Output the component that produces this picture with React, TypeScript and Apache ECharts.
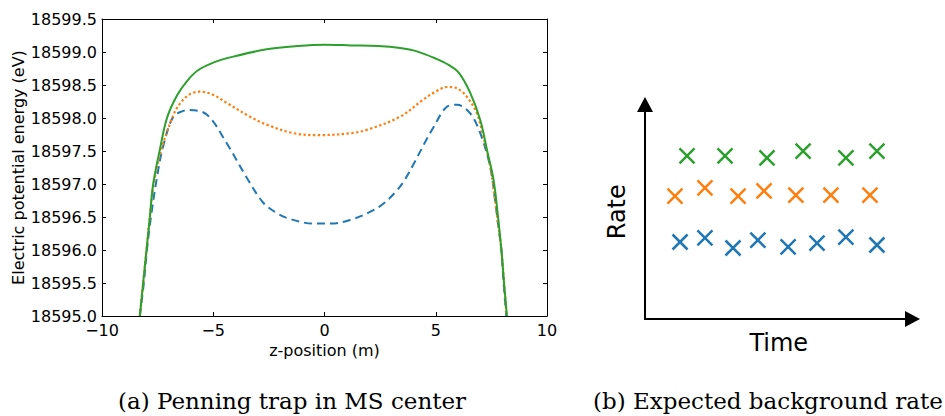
import React, { useEffect, useRef } from "react";
import * as echarts from "echarts";

// ---------- Left panel: Penning trap potential ----------
const xTicks = [-10, -5, 0, 5, 10];
const yTicks = [18595.0, 18595.5, 18596.0, 18596.5, 18597.0, 18597.5, 18598.0, 18598.5, 18599.0, 18599.5];

const greenSolid: [number, number][] = [
  [-8.3, 18595.0], [-8.15, 18595.5], [-8.0, 18596.0], [-7.85, 18596.5], [-7.7, 18597.0],
  [-7.4, 18597.52], [-7.08, 18598.0], [-6.63, 18598.34], [-6.18, 18598.56], [-5.7, 18598.72],
  [-5.0, 18598.84], [-4.1, 18598.93], [-2.6, 18599.04], [-1.2, 18599.09], [0.0, 18599.11], [1.2, 18599.1],
  [2.4, 18599.09], [3.4, 18599.06], [4.15, 18599.01], [5.0, 18598.9], [5.6, 18598.8],
  [6.05, 18598.68], [6.55, 18598.38], [7.0, 18597.97], [7.3, 18597.52], [7.6, 18597.06],
  [7.8, 18596.5], [7.95, 18596.0], [8.07, 18595.5], [8.2, 18595.0],
];

const orangeDotted: [number, number][] = [
  [-8.3, 18595.0], [-8.15, 18595.5], [-8.0, 18596.0], [-7.85, 18596.5], [-7.68, 18597.0],
  [-7.35, 18597.5], [-6.94, 18597.92], [-6.6, 18598.17], [-6.1, 18598.35], [-5.6, 18598.4],
  [-5.0, 18598.35], [-4.4, 18598.23], [-3.35, 18598.02], [-2.6, 18597.9], [-1.4, 18597.77],
  [-0.2, 18597.74], [1.15, 18597.77], [1.9, 18597.82], [3.4, 18598.02], [4.4, 18598.27],
  [5.0, 18598.4], [5.5, 18598.47], [5.95, 18598.45], [6.4, 18598.32], [6.85, 18598.07],
  [7.1, 18597.77], [7.45, 18597.26], [7.65, 18596.8], [7.8, 18596.4], [7.95, 18596.0],
  [8.07, 18595.5], [8.18, 18595.0],
];

const blueDashed: [number, number][] = [
  [-8.3, 18595.0], [-8.12, 18595.5], [-7.98, 18596.0], [-7.8, 18596.5], [-7.53, 18597.1],
  [-7.26, 18597.56], [-6.8, 18598.02], [-6.4, 18598.1], [-6.05, 18598.12], [-5.28, 18598.05],
  [-4.4, 18597.62], [-3.5, 18597.1], [-2.76, 18596.72], [-2.1, 18596.55], [-1.55, 18596.47], [-0.5, 18596.4],
  [0.3, 18596.4], [1.2, 18596.46], [2.0, 18596.57], [2.64, 18596.7], [3.25, 18596.9], [3.6, 18597.06],
  [4.0, 18597.3], [4.5, 18597.62], [4.9, 18597.86], [5.5, 18598.17], [5.95, 18598.2], [6.55, 18598.07], [7.0, 18597.77],
  [7.45, 18597.26], [7.65, 18596.8], [7.8, 18596.4], [7.95, 18596.0], [8.05, 18595.5],
  [8.17, 18595.0],
];

// ---------- Right panel: expected background rate (schematic) ----------
const greenRateT = [15.7, 29.9, 45.6, 59.1, 75.1, 86.7];
const greenRate = [76.0, 76.0, 75.1, 78.3, 75.1, 78.3];
const orangeRateT = [11.2, 22.4, 34.8, 44.5, 56.4, 69.5, 84.1];
const orangeRate = [57.3, 61.1, 57.3, 59.7, 57.8, 57.8, 57.8];
const blueRateT = [13.1, 22.4, 32.9, 42.2, 53.5, 64.3, 75.1, 86.7];
const blueRate = [35.9, 37.8, 33.1, 36.8, 33.6, 35.4, 38.2, 34.5];

const captions = ["(a) Penning trap in MS center", "(b) Expected background rate"];

const BLUE = "#1f77b4";
const ORANGE = "#ff7f0e";
const GREEN = "#2ca02c";
const SANS = "DejaVu Sans";
const SERIF = "DejaVu Serif";

const zip = (a: number[], b: number[]) => a.map((v, i) => [v, b[i]]);
const CROSS = "path://M0 0L10 10M10 0L0 10";

export default function App() {
  const ref = useRef<HTMLDivElement>(null);
  useEffect(() => {
    if (!ref.current) return;
    const chart = echarts.init(ref.current, undefined, { renderer: "svg" });
    const axisLine = { show: true, onZero: false, lineStyle: { color: "#000", width: 1 } };
    const tickIn = { show: true, inside: true, length: 4, lineStyle: { color: "#000", width: 1 } };
    const arrowLine = {
      show: true, onZero: false, symbol: ["none", "triangle"], symbolSize: [16, 15],
      lineStyle: { color: "#000", width: 2 },
    };
    const crossSeries = (data: number[][], color: string) => ({
      type: "scatter",
      xAxisIndex: 2,
      yAxisIndex: 2,
      data,
      symbol: CROSS,
      symbolSize: 15,
      itemStyle: { color: "rgba(0,0,0,0)", borderColor: color, borderWidth: 2.5, opacity: 1 },
      silent: true,
    });
    const lineCommon = {
      type: "line", xAxisIndex: 0, yAxisIndex: 0, showSymbol: false,
      smooth: 0.35, clip: true,
    };
    chart.setOption({
      animation: false,
      backgroundColor: "#fff",
      grid: [
        { left: 102, top: 19, width: 445, height: 297 },
        { left: 645, top: 104.5, right: 32.5, bottom: 97 },
      ],
      xAxis: [
        {
          type: "value", gridIndex: 0, min: -10, max: 10, interval: 5, position: "bottom",
          axisLine, axisTick: tickIn, splitLine: { show: false },
          axisLabel: {
            color: "#000", fontFamily: SANS, fontSize: 16, margin: 6,
            formatter: (v: number) => String(v).replace("-", "\u2212"),
          },
          name: "z-position (m)", nameLocation: "middle", nameGap: 25,
          nameTextStyle: { color: "#000", fontFamily: SANS, fontSize: 16 },
        },
        {
          type: "value", gridIndex: 0, min: -10, max: 10, interval: 5, position: "top",
          axisLine, axisTick: tickIn, axisLabel: { show: false }, splitLine: { show: false },
        },
        {
          type: "value", gridIndex: 1, min: 0, max: 100,
          axisLine: arrowLine,
          axisTick: { show: false }, axisLabel: { show: false }, splitLine: { show: false },
          name: "Time", nameLocation: "middle", nameGap: 12,
          nameTextStyle: { color: "#000", fontFamily: SANS, fontSize: 24 },
        },
      ],
      yAxis: [
        {
          type: "value", gridIndex: 0, min: 18595, max: 18599.5, interval: 0.5, position: "left",
          axisLine, axisTick: tickIn, splitLine: { show: false },
          axisLabel: {
            color: "#000", fontFamily: SANS, fontSize: 16, margin: 5,
            formatter: (v: number) => v.toFixed(1),
          },
          name: "Electric potential energy (eV)", nameLocation: "middle", nameGap: 75,
          nameTextStyle: { color: "#000", fontFamily: SANS, fontSize: 16 },
        },
        {
          type: "value", gridIndex: 0, min: 18595, max: 18599.5, interval: 0.5, position: "right",
          axisLine, axisTick: tickIn, axisLabel: { show: false }, splitLine: { show: false },
        },
        {
          type: "value", gridIndex: 1, min: 0, max: 100,
          axisLine: arrowLine,
          axisTick: { show: false }, axisLabel: { show: false }, splitLine: { show: false },
          name: "Rate", nameLocation: "middle", nameGap: 16, nameRotate: 90,
          nameTextStyle: { color: "#000", fontFamily: SANS, fontSize: 24 },
        },
      ],
      series: [
        { ...lineCommon, data: blueDashed, lineStyle: { color: BLUE, width: 2, type: [8, 5] } },
        { ...lineCommon, data: orangeDotted, lineStyle: { color: ORANGE, width: 2.2, type: [2.4, 2.4] } },
        { ...lineCommon, data: greenSolid, lineStyle: { color: GREEN, width: 2 } },
        crossSeries(zip(greenRateT, greenRate), GREEN),
        crossSeries(zip(orangeRateT, orangeRate), ORANGE),
        crossSeries(zip(blueRateT, blueRate), BLUE),
      ],
      graphic: [
        {
          type: "text", left: 118, top: 389,
          style: { text: captions[0], font: `23px "${SERIF}"`, fill: "#000" },
        },
        {
          type: "text", left: 593, top: 389,
          style: { text: captions[1], font: `23px "${SERIF}"`, fill: "#000" },
        },
      ],
    });
    return () => chart.dispose();
  }, []);
  return (
    <div
      ref={ref}
      style={{ position: "fixed", left: 0, top: 0, width: 945, height: 416, background: "#fff" }}
    />
  );
}
